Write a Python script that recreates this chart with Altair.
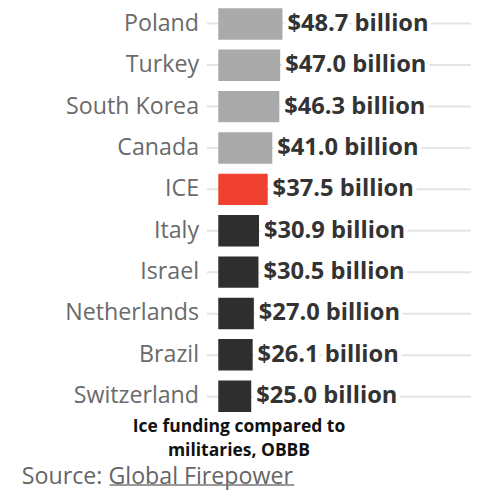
import altair as alt
import pandas as pd

countries = ["Poland", "Turkey", "South Korea", "Canada", "ICE",
             "Italy", "Israel", "Netherlands", "Brazil", "Switzerland"]
values = [48.7, 47.0, 46.3, 41.0, 37.5, 30.9, 30.5, 27.0, 26.1, 25.0]
groups = ["Higher", "Higher", "Higher", "Higher", "ICE",
          "Lower", "Lower", "Lower", "Lower", "Lower"]
group_names = ["Higher", "ICE", "Lower"]
group_colors = ["#aaaaaa", "#f0402f", "#2e2e2e"]
title_lines = ["Ice funding compared to", "militaries, OBBB"]
source_text = "Source: Global Firepower"

df = pd.DataFrame({"country": countries, "value": values, "group": groups})

LABEL_FONT = "Open Sans"

y_enc = alt.Y(
    "country:N",
    sort=countries,
    scale=alt.Scale(range=[-8, 411], paddingInner=0.24, paddingOuter=0.12),
    axis=alt.Axis(
        title=None, domain=False, grid=True, ticks=True, tickSize=12,
        tickColor="#e4e4e4", tickWidth=2, gridColor="#e4e4e4", gridWidth=2,
        labelFont=LABEL_FONT, labelFontSize=23.5, labelColor="#6a6a6a",
        labelPadding=8, bandPosition=0.5,
    ),
)
x_enc = alt.X("value:Q", scale=alt.Scale(domain=[0, 191.8]), axis=None)

base = alt.Chart(df).encode(y=y_enc, x=x_enc)

bars = base.mark_bar().encode(
    color=alt.Color("group:N", scale=alt.Scale(domain=group_names, range=group_colors), legend=None)
)

label_base = base.transform_calculate(
    lab="'$' + format(datum.value, '.1f') + ' billion'"
)
halo = label_base.mark_text(
    align="left", baseline="middle", dx=5, font=LABEL_FONT, fontSize=24,
    fontWeight="bold", fill="white", stroke="white", strokeWidth=9,
).encode(text="lab:N")
labels = label_base.mark_text(
    align="left", baseline="middle", dx=5, font=LABEL_FONT, fontSize=24,
    fontWeight="bold", color="#333333",
).encode(text="lab:N")

ann = pd.DataFrame({"t": [0]})
t1 = alt.Chart(ann).mark_text(
    text=title_lines[0], font="Open Sans", fontSize=17.7, fontWeight="bold",
    color="#111111", align="center", baseline="middle",
).encode(x=alt.value(21), y=alt.value(421))
t2 = alt.Chart(ann).mark_text(
    text=title_lines[1], font="Open Sans", fontSize=17.7, fontWeight="bold",
    color="#111111", align="center", baseline="middle",
).encode(x=alt.value(21), y=alt.value(446))
src = alt.Chart(ann).mark_text(
    text=source_text, font=LABEL_FONT, fontSize=23.5, color="#666666",
    align="left", baseline="middle",
).encode(x=alt.value(-199), y=alt.value(472))
underline = alt.Chart(ann).mark_rule(color="#777777", strokeWidth=1.5).encode(
    x=alt.value(-110), x2=alt.value(77), y=alt.value(480)
)

chart = alt.layer(bars, halo, labels, t1, t2, src, underline).properties(
    width=256, height=411,
    autosize=alt.AutoSizeParams(type="none"),
    padding={"left": 213, "top": 0, "right": 0, "bottom": 80},
).configure_view(stroke=None)

chart.save("out.html", embed_options={"renderer": "svg", "actions": False})
